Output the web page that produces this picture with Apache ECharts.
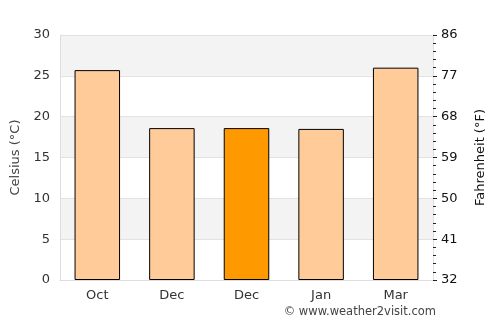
<!DOCTYPE html>
<html>
<head>
<meta charset="utf-8">
<script src="https://cdn.jsdelivr.net/npm/echarts@6/dist/echarts.min.js"></script>
<style>
  html, body { margin: 0; padding: 0; background: #fff; }
  #main { width: 500px; height: 325px; }
</style>
</head>
<body>
<div id="main"></div>
<script>
// months shown on the x axis
var months = ['Oct', 'Dec', 'Dec', 'Jan', 'Mar'];
// average temperature, celsius
var celsius = [25.7, 18.6, 18.6, 18.5, 26.0];
// which bar is highlighted (darker orange)
var highlight = [false, false, true, false, false];
// right axis range in fahrenheit
var fMin = 32, fMax = 86, fStep = 9;

var chart = echarts.init(document.getElementById('main'));

var barData = celsius.map(function (v, i) {
  return {
    value: v,
    itemStyle: { color: highlight[i] ? '#ff9900' : '#ffcc99' }
  };
});

chart.setOption({
  backgroundColor: '#fff',
  textStyle: { fontFamily: 'DejaVu Sans' },
  animation: false,
  grid: { left: 60, right: 67, top: 35, bottom: 45 },
  xAxis: {
    type: 'category',
    data: months,
    axisLine: { lineStyle: { color: '#dddddd' } },
    axisTick: { show: false },
    axisLabel: { color: '#333', fontSize: 13, margin: 9 }
  },
  yAxis: [
    {
      type: 'value',
      min: 0, max: 30, interval: 5,
      name: 'Celsius (°C)',
      nameLocation: 'middle',
      nameGap: 30,
      nameTextStyle: { color: '#444', fontSize: 13 },
      axisLine: { show: true, lineStyle: { color: '#dddddd' } },
      axisTick: { show: false },
      axisLabel: { color: '#333', fontSize: 13, margin: 10 },
      splitLine: { lineStyle: { color: '#e2e2e2' } },
      splitArea: { show: true, areaStyle: { color: ['#ffffff', '#f3f3f3'] } }
    },
    {
      type: 'value',
      min: fMin, max: fMax, interval: fStep,
      position: 'right',
      name: 'Fahrenheit (°F)',
      nameLocation: 'middle',
      nameGap: 41,
      nameRotate: 90,
      nameTextStyle: { color: '#111', fontSize: 13 },
      axisLine: { show: true, lineStyle: { color: '#dddddd' } },
      axisTick: { show: true, length: 4, lineStyle: { color: '#222' } },
      minorTick: { show: true, splitNumber: 5, length: 3, lineStyle: { color: '#222' } },
      axisLabel: { color: '#111', fontSize: 13, margin: 8 },
      splitLine: { show: false }
    }
  ],
  series: [{
    type: 'bar',
    data: barData,
    barWidth: '61%',
    itemStyle: { borderColor: '#000', borderWidth: 1 }
  }],
  graphic: [{
    type: 'text',
    right: 64,
    top: 306,
    style: {
      text: '© www.weather2visit.com',
      fill: '#444',
      font: '11.5px DejaVu Sans'
    }
  }]
});
</script>
</body>
</html>
